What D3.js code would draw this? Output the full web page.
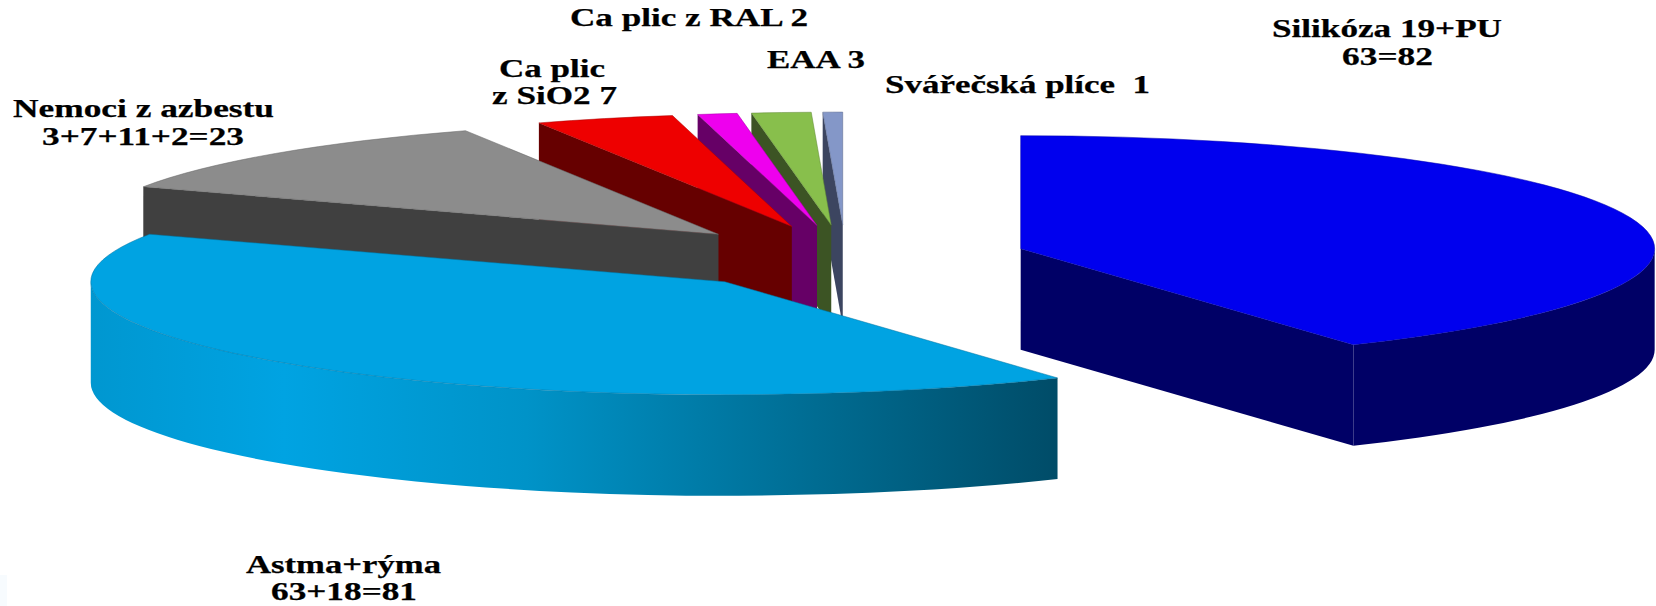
<!DOCTYPE html>
<html lang="cs">
<head>
    <meta charset="UTF-8">
    <title>Nemoci z povolání</title>
    <script src="https://d3js.org/d3.v7.min.js"></script>
    <style>
        html, body { margin: 0; padding: 0; background: #fff; }
        svg { display: block; }
        text { font-family: "Liberation Serif", "Times New Roman", serif; font-weight: bold; fill: #000; stroke: #000; stroke-width: 0.25; white-space: pre; }
    </style>
</head>
<body>
    <svg id="chart" width="1656" height="606"></svg>
    <script>
        // Data (clockwise from 12 o'clock)
        const categories = ['Silikóza', 'Astma+rýma', 'Nemoci z azbestu', 'Ca plic z SiO2', 'Ca plic z RAL', 'EAA', 'Svářečská plíce'];
        const values = [82, 81, 23, 7, 2, 3, 1];
        const labelLines = [
            ['Silikóza 19+PU', '63=82'],
            ['Astma+rýma', '63+18=81'],
            ['Nemoci z azbestu', '3+7+11+2=23'],
            ['Ca plic', 'z SiO2 7'],
            ['Ca plic z RAL 2'],
            ['EAA 3'],
            ['Svářečská plíce  1']
        ];
        const topColors = ['#0000ee', '#00a3e2', '#8c8c8c', '#ee0000', '#ee00ee', '#88bf4c', '#8497c8'];
        const wallColors = ['#000066', '#00a3e2', '#404040', '#660000', '#660066', '#3c5424', '#3c4560'];

        // Label placement: [left, right, baseline] per line
        const labelBoxes = [
            [[1272, 1502, 37], [1342, 1433, 65]],
            [[246, 441, 573], [271, 417, 600]],
            [[13, 274, 117], [42, 244, 145]],
            [[499, 605, 77], [492, 617, 104]],
            [[570, 808, 26]],
            [[767, 865, 68]],
            [[885, 1150, 93]]
        ];

        const width = 1656, height = 606;
        const svg = d3.select('#chart');

        // faint smudge in the bottom left corner of the original
        svg.append('rect').attr('x', 0).attr('y', 575).attr('width', 7).attr('height', 31).attr('fill', '#f7fbfe');

        // Pie space is -1..1 on both axes, the scales flatten it into the tilted ellipse
        const x = d3.scaleLinear().domain([-1, 1]).range([845.6 - 634, 845.6 + 634]);
        const y = d3.scaleLinear().domain([-1, 1]).range([257.5 - 113, 257.5 + 113]);
        const depth = 101;
        const explode = 0.287;
        const rx = x(1) - x(0), ry = y(1) - y(0);

        const arcs = d3.pie().sort(null).startAngle(0).endAngle(2 * Math.PI)(values);

        const gradient = svg.append('defs').append('linearGradient').attr('id', 'wallShade');
        [[0, '#0097d0'], [0.2, '#00a3e2'], [0.45, '#0093c8'], [0.75, '#006c92'], [1, '#004c68']].forEach(s => {
            gradient.append('stop').attr('offset', s[0]).attr('stop-color', s[1]);
        });

        function rim(cx, cy, a, z) {
            return [x(cx + Math.sin(a)), y(cy - Math.cos(a)) + z];
        }

        function arcTo(cx, cy, a0, a1, z) {
            const p = rim(cx, cy, a1, z);
            const sweep = a1 > a0 ? 1 : 0;
            const large = Math.abs(a1 - a0) > Math.PI ? 1 : 0;
            return `A${rx},${ry} 0 ${large} ${sweep} ${p[0]},${p[1]}`;
        }

        function drawSlice(d) {
            const i = d.index;
            const mid = (d.startAngle + d.endAngle) / 2;
            const cx = explode * Math.sin(mid), cy = -explode * Math.cos(mid);
            const c = [x(cx), y(cy)];
            const g = svg.append('g').attr('class', 'slice');

            function edgeWall(a) {
                const p = rim(cx, cy, a, 0);
                g.append('path')
                    .attr('d', `M${c} L${p} L${p[0]},${p[1] + depth} L${c[0]},${c[1] + depth} Z`)
                    .attr('fill', wallColors[i]);
            }
            if (Math.sin(d.startAngle) < -1e-6) edgeWall(d.startAngle);
            if (Math.sin(d.endAngle) > 1e-6) edgeWall(d.endAngle);

            // outer wall only on the part of the rim that faces the viewer
            const a0 = Math.max(d.startAngle, Math.PI / 2);
            const a1 = Math.min(d.endAngle, 3 * Math.PI / 2);
            if (a1 > a0) {
                const p0 = rim(cx, cy, a0, 0), p1 = rim(cx, cy, a1, depth);
                g.append('path')
                    .attr('d', `M${p0} ${arcTo(cx, cy, a0, a1, 0)} L${p1} ${arcTo(cx, cy, a1, a0, depth)} Z`)
                    .attr('fill', i === 1 ? 'url(#wallShade)' : wallColors[i]);
            }

            const start = rim(cx, cy, d.startAngle, 0);
            g.append('path')
                .attr('d', `M${c} L${start} ${arcTo(cx, cy, d.startAngle, d.endAngle, 0)} Z`)
                .attr('fill', topColors[i])
                .attr('stroke', d3.color(topColors[i]).darker(1))
                .attr('stroke-width', 0.5);
        }

        // Painter's order: small back slices first, big front one last
        const order = [0, 6, 5, 4, 3, 2, 1];
        order.forEach(i => drawSlice(arcs[i]));

        labelLines.forEach((lines, i) => {
            lines.forEach((line, j) => {
                const box = labelBoxes[i][j];
                svg.append('text')
                    .attr('x', box[0])
                    .attr('y', box[2])
                    .attr('font-size', 26)
                    .attr('textLength', box[1] - box[0])
                    .attr('lengthAdjust', 'spacingAndGlyphs')
                    .text(line);
            });
        });
    </script>
</body>
</html>
